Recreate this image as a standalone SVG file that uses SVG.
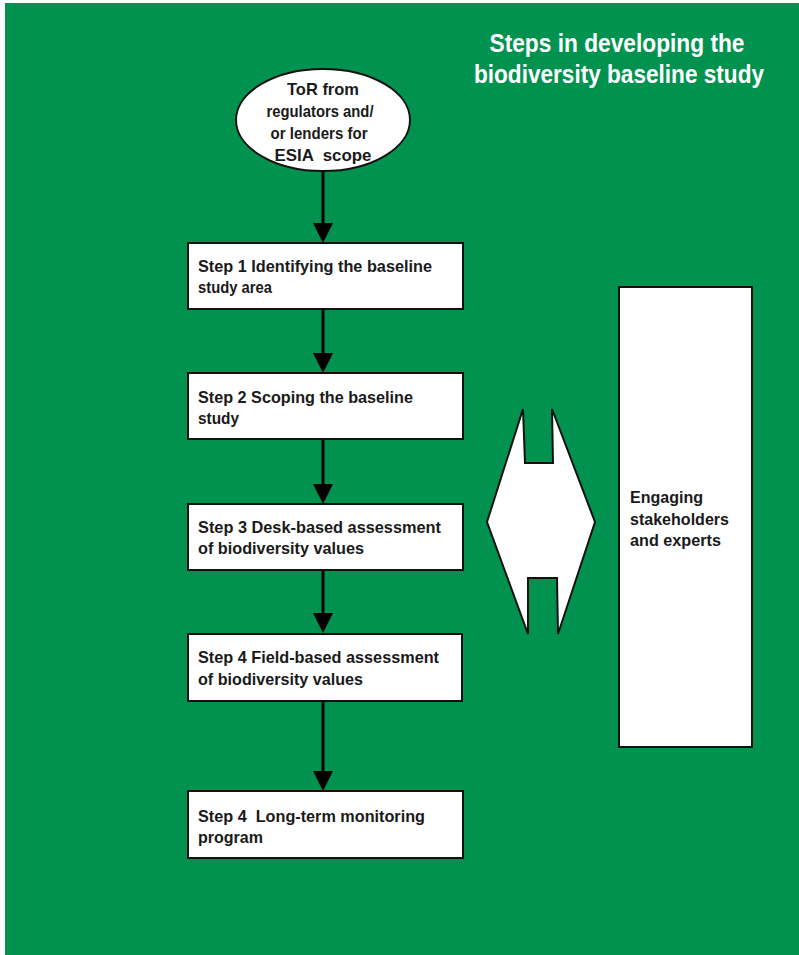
<svg xmlns="http://www.w3.org/2000/svg" width="799" height="955" viewBox="0 0 799 955">
  <style>
    .box { fill: #ffffff; stroke: #111111; stroke-width: 2; }
    .lbl { font-family: "Liberation Sans", Arial, sans-serif; font-weight: bold; font-size: 17px; fill: #1a1a1a; }
    .ttl { font-family: "Liberation Sans", Arial, sans-serif; font-weight: bold; font-size: 25px; fill: #ffffff; }
    .flow { stroke: #000000; stroke-width: 3; fill: none; }
  </style>
  <defs>
    <marker id="head" markerUnits="userSpaceOnUse" viewBox="0 0 20 20" markerWidth="20" markerHeight="20" refX="10" refY="10" orient="auto">
      <path d="M0,0 L20,10 L0,20 z" fill="#000000"/>
    </marker>
  </defs>

  <!-- page background -->
  <rect x="0" y="0" width="799" height="955" fill="#ffffff"/>
  <rect x="5" y="3" width="794" height="952" fill="#02924f"/>

  <!-- heading -->
  <g id="title">
    <text class="ttl" x="617" y="52" text-anchor="middle" textLength="255" lengthAdjust="spacingAndGlyphs">Steps in developing the</text>
    <text class="ttl" x="619" y="83" text-anchor="middle" textLength="290" lengthAdjust="spacingAndGlyphs">biodiversity baseline study</text>
  </g>

  <!-- connectors -->
  <g id="connectors">
    <line class="flow" x1="323" y1="172" x2="323" y2="233" marker-end="url(#head)"/>
    <line class="flow" x1="323" y1="309" x2="323" y2="363" marker-end="url(#head)"/>
    <line class="flow" x1="323" y1="439" x2="323" y2="494" marker-end="url(#head)"/>
    <line class="flow" x1="323" y1="570" x2="323" y2="623" marker-end="url(#head)"/>
    <line class="flow" x1="323" y1="701" x2="323" y2="781" marker-end="url(#head)"/>
  </g>

  <!-- terms of reference -->
  <g id="tor">
    <ellipse class="box" cx="323" cy="120" rx="87" ry="51"/>
    <text class="lbl" x="323" y="95" text-anchor="middle" textLength="72" lengthAdjust="spacingAndGlyphs">ToR from</text>
    <text class="lbl" x="320" y="117" text-anchor="middle" textLength="107" lengthAdjust="spacingAndGlyphs">regulators and/</text>
    <text class="lbl" x="319" y="139" text-anchor="middle" textLength="97" lengthAdjust="spacingAndGlyphs">or lenders for</text>
    <text class="lbl" x="323" y="161" text-anchor="middle" textLength="97" lengthAdjust="spacingAndGlyphs" xml:space="preserve">ESIA  scope</text>
  </g>

  <g id="step1">
    <rect class="box" x="188" y="243" width="275" height="66"/>
    <text class="lbl" x="198" y="272" textLength="234" lengthAdjust="spacingAndGlyphs">Step 1 Identifying the baseline</text>
    <text class="lbl" x="198" y="293" textLength="74" lengthAdjust="spacingAndGlyphs">study area</text>
  </g>

  <g id="step2">
    <rect class="box" x="188" y="373" width="275" height="66"/>
    <text class="lbl" x="198" y="403" textLength="215" lengthAdjust="spacingAndGlyphs">Step 2 Scoping the baseline</text>
    <text class="lbl" x="198" y="424" textLength="41" lengthAdjust="spacingAndGlyphs">study</text>
  </g>

  <g id="step3">
    <rect class="box" x="188" y="504" width="275" height="66"/>
    <text class="lbl" x="198" y="533" textLength="243" lengthAdjust="spacingAndGlyphs">Step 3 Desk-based assessment</text>
    <text class="lbl" x="198" y="554" textLength="166" lengthAdjust="spacingAndGlyphs">of biodiversity values</text>
  </g>

  <g id="step4">
    <rect class="box" x="188" y="634" width="274" height="67"/>
    <text class="lbl" x="198" y="663" textLength="241" lengthAdjust="spacingAndGlyphs">Step 4 Field-based assessment</text>
    <text class="lbl" x="198" y="685" textLength="165" lengthAdjust="spacingAndGlyphs">of biodiversity values</text>
  </g>

  <g id="step5">
    <rect class="box" x="188" y="791" width="275" height="67"/>
    <text class="lbl" x="198" y="822" textLength="227" lengthAdjust="spacingAndGlyphs" xml:space="preserve">Step 4  Long-term monitoring</text>
    <text class="lbl" x="198" y="843" textLength="65" lengthAdjust="spacingAndGlyphs">program</text>
  </g>

  <!-- two-way exchange symbol -->
  <g id="exchange">
    <polygon class="box" points="523,409 525,463 553,463 552,409 595,522 558,634 557,578 528,578 528,634 487,522"/>
  </g>

  <g id="stakeholders">
    <rect class="box" x="619" y="287" width="133" height="460"/>
    <text class="lbl" x="630" y="503" textLength="73" lengthAdjust="spacingAndGlyphs">Engaging</text>
    <text class="lbl" x="630" y="525" textLength="99" lengthAdjust="spacingAndGlyphs">stakeholders</text>
    <text class="lbl" x="630" y="546" textLength="91" lengthAdjust="spacingAndGlyphs">and experts</text>
  </g>
</svg>
